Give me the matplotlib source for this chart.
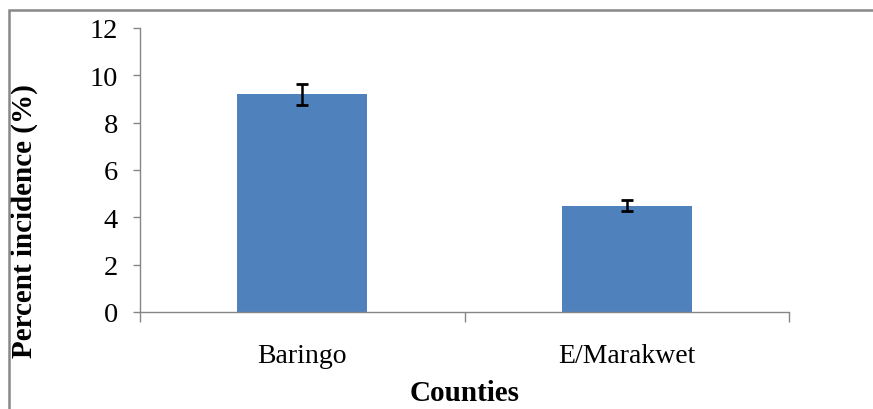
import matplotlib
matplotlib.use("Agg")
import matplotlib.pyplot as plt
from matplotlib.patches import Rectangle

counties = ["Baringo", "E/Marakwet"]
incidence = [9.2, 4.5]
errors = [0.45, 0.24]
y_ticks = [0, 2, 4, 6, 8, 10, 12]

plt.rcParams["font.family"] = "Liberation Serif"

fig = plt.figure(figsize=(8.73, 4.10), dpi=100)
ax = fig.add_axes([140 / 873, 1 - 313 / 410, (789 - 140) / 873, (313 - 29) / 410])

x = [1, 2]
ax.bar(x, incidence, width=0.4, color="#4F81BD", zorder=2)
ax.errorbar(x, incidence, yerr=errors, fmt="none", ecolor="black",
            elinewidth=1.8, capsize=4, capthick=2, zorder=3)

ax.set_xlim(0.5, 2.5)
ax.set_ylim(0, 12)
ax.set_yticks(y_ticks)
ax.set_xticks(x)
ax.set_xticklabels(counties, fontsize=20)
ax.set_xticks([0.5, 1.5, 2.5], minor=True)
ax.tick_params(axis="x", which="major", length=0, pad=22)
ax.tick_params(axis="x", which="minor", length=7, width=1, color="#868686")
ax.tick_params(axis="y", length=5, width=1, color="#868686", pad=11, labelsize=20.5)

for side in ["top", "right"]:
    ax.spines[side].set_visible(False)
for side in ["left", "bottom"]:
    ax.spines[side].set_color("#868686")
    ax.spines[side].set_linewidth(1)

ax.set_xlabel("Counties", fontsize=21, fontweight="bold", labelpad=8)
ax.set_ylabel("Percent incidence (%)", fontsize=21, fontweight="bold")
ax.yaxis.set_label_coords(-0.157, 0.324)

# chart frame (only top and left edges are visible in the crop)
fig.patches.append(Rectangle((8.5 / 873, -0.1), 1.2, 1.1 - 10.5 / 410,
                             transform=fig.transFigure, fill=False,
                             edgecolor="#888888", linewidth=1.8))

fig.savefig("out.png", dpi=100)
